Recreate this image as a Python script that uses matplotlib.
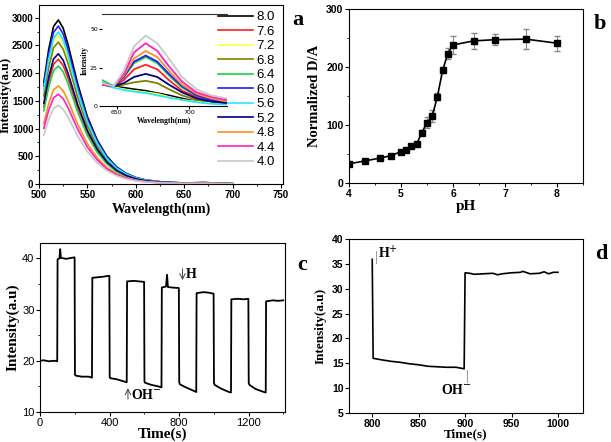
import numpy as np
import matplotlib
matplotlib.use('Agg')
import matplotlib.pyplot as plt
from matplotlib.ticker import AutoMinorLocator

serif = 'Liberation Serif'
sans = 'Liberation Sans'

# ---- panel a : emission spectra at different pH ----
ph_labels = ['8.0', '7.6', '7.2', '6.8', '6.4', '6.0', '5.6', '5.2', '4.8', '4.4', '4.0']
spec_colors = ['black', '#ff2020', '#ffff40', '#808000', '#20d040', '#2020ff',
               '#20e8ff', '#000080', '#ff9020', '#ff20c0', '#c8c8c8']
wl = [505, 510, 515, 520, 525, 530, 535, 540, 550, 560, 570, 580, 590, 600, 610, 625, 650, 670, 690, 700]
spectra = [
    [1835, 2427, 2842, 2960, 2812, 2516, 2161, 1806, 1214, 799, 503, 311, 192, 118, 74, 41, 18, 27, 12, 6],
    [1395, 1845, 2160, 2250, 2138, 1913, 1643, 1373, 923, 608, 383, 236, 146, 90, 56, 32, 14, 20, 9, 5],
    [1662, 2198, 2573, 2680, 2546, 2278, 1956, 1635, 1099, 724, 456, 281, 174, 107, 67, 38, 16, 24, 11, 5],
    [1587, 2099, 2458, 2560, 2432, 2176, 1869, 1562, 1050, 691, 435, 269, 166, 102, 64, 36, 15, 23, 10, 5],
    [1321, 1747, 2045, 2130, 2024, 1811, 1555, 1299, 873, 575, 362, 224, 138, 85, 53, 30, 13, 19, 9, 4],
    [1767, 2337, 2736, 2850, 2708, 2423, 2081, 1739, 1169, 770, 485, 299, 185, 114, 71, 40, 17, 26, 11, 6],
    [1699, 2247, 2630, 2740, 2603, 2329, 2000, 1671, 1123, 740, 466, 288, 178, 110, 69, 38, 16, 25, 11, 5],
    [1457, 1927, 2256, 2350, 2233, 1998, 1716, 1434, 964, 635, 400, 247, 153, 94, 59, 33, 14, 21, 9, 5],
    [1097, 1451, 1699, 1770, 1682, 1505, 1292, 1080, 726, 478, 301, 186, 115, 71, 44, 25, 11, 16, 7, 4],
    [1004, 1328, 1555, 1620, 1539, 1377, 1183, 988, 664, 437, 275, 170, 105, 65, 41, 23, 10, 15, 6, 3],
    [880, 1164, 1363, 1420, 1349, 1207, 1037, 866, 582, 383, 241, 149, 92, 57, 36, 20, 9, 13, 6, 3],
]
# inset (acceptor band)
wl_in = [640, 648, 655, 662, 670, 678, 686, 695, 705, 715, 726]
inset_spectra = [
    [14, 13, 12, 11, 10, 8.5, 7, 5, 3, 2, 1.5],
    [14, 13, 17, 24, 27, 24, 17, 10, 6, 4, 3],
    [14, 12.5, 11, 10, 9, 8, 6, 4, 3, 2, 1.5],
    [14, 13, 14, 15.5, 16.5, 15, 11, 7, 4, 3, 2],
    [17, 13, 19, 28, 32, 28, 20, 12, 7, 4, 3],
    [15, 13, 19, 29, 33, 29, 21, 13, 7, 4, 3],
    [14, 12, 10.5, 9.5, 8.5, 7, 5.5, 4, 2.5, 1.5, 1],
    [14, 13, 15, 19, 21, 19, 14, 9, 5, 3, 2],
    [14, 13, 20, 31, 36, 32, 23, 14, 8, 5, 3],
    [14, 13, 21, 35, 41, 36, 26, 16, 9, 6, 4],
    [15, 13, 23, 39, 46, 41, 31, 19, 11, 7, 5],
]

# ---- panel b : D/A ratio vs pH ----
ph = [4.0, 4.3, 4.6, 4.8, 5.0, 5.1, 5.2, 5.3, 5.4, 5.5, 5.6, 5.7, 5.8, 5.9, 6.0, 6.4, 6.8, 7.4, 8.0]
ratio = [33, 38, 43, 47, 54, 57, 64, 67, 87, 104, 115, 149, 194, 223, 238, 245, 247, 248, 241]
ratio_err = [2, 2, 2, 2, 3, 3, 4, 4, 5, 10, 10, 6, 5, 10, 15, 14, 9, 17, 13]

# ---- panel c : reversibility cycles ----
t_c = [0, 20, 50, 80, 99, 101, 112, 116, 120, 150, 199,
       201, 205, 240, 280, 299, 301, 330, 360, 399,
       401, 405, 440, 480, 499, 501, 540, 570, 599,
       601, 605, 640, 680, 699, 701, 725, 731, 736, 760, 799,
       801, 805, 840, 880, 899, 901, 940, 970, 999,
       1001, 1005, 1040, 1080, 1099, 1101, 1140, 1170, 1199,
       1201, 1205, 1240, 1280, 1299, 1301, 1340, 1370, 1400]
i_c = [20.0, 20.1, 19.9, 20.0, 19.9, 39.8, 40.0, 41.8, 40.1, 39.9, 40.2,
       17.3, 17.1, 16.9, 16.9, 16.7, 36.2, 36.3, 36.4, 36.6,
       16.8, 16.6, 16.4, 16.0, 15.8, 35.5, 35.6, 35.5, 35.4,
       15.9, 15.7, 15.3, 15.0, 14.8, 34.3, 34.5, 36.8, 34.4, 34.3, 34.2,
       15.8, 15.4, 14.8, 14.2, 13.9, 33.2, 33.4, 33.3, 33.1,
       15.7, 15.3, 14.6, 14.0, 13.8, 32.0, 32.1, 32.0, 32.1,
       15.7, 15.3, 14.5, 14.0, 13.8, 31.6, 31.8, 31.7, 31.8]

# ---- panel d : single cycle ----
t_d = [800, 801, 810, 820, 830, 840, 850, 860, 870, 880, 890, 899,
       900, 905, 910, 920, 930, 935, 940, 950, 960, 962, 970, 980, 985, 990, 995, 1000]
i_d = [35.9, 16.0, 15.7, 15.4, 15.2, 14.9, 14.7, 14.4, 14.3, 14.2, 14.2, 13.9,
       33.2, 33.1, 32.9, 33.0, 33.1, 32.8, 33.0, 33.2, 33.3, 33.5, 33.0, 33.1, 33.4, 33.0, 33.3, 33.3]


def style_ticks(ax, size=7, family=sans, weight='bold'):
    ax.tick_params(which='both', direction='out')
    ax.tick_params(which='major', length=3, labelsize=size, pad=1)
    ax.tick_params(which='minor', length=1.5)
    for lab in ax.get_xticklabels() + ax.get_yticklabels():
        lab.set_fontfamily(family)
        lab.set_fontweight(weight)


fig = plt.figure(figsize=(6.11, 4.42), dpi=100)

# panel a
ax1 = fig.add_axes([0.0638, 0.5837, 0.3993, 0.405])
for i in range(len(ph_labels)):
    ax1.plot(wl, spectra[i], color=spec_colors[i], lw=1.2, label=ph_labels[i])
ax1.set_xlim(500, 752)
ax1.set_ylim(0, 3230)
ax1.set_xticks([500, 550, 600, 650, 700, 750])
ax1.set_yticks([0, 500, 1000, 1500, 2000, 2500, 3000])
ax1.xaxis.set_minor_locator(AutoMinorLocator(2))
ax1.yaxis.set_minor_locator(AutoMinorLocator(2))
style_ticks(ax1, 7)
ax1.set_xlabel('Wavelength(nm)', family=serif, weight='bold', fontsize=10, labelpad=2)
ax1.set_ylabel('Intensity(a.u)', family=serif, weight='bold', fontsize=9.5, labelpad=0)
leg = ax1.legend(loc='upper right', bbox_to_anchor=(1.0, 1.01), frameon=False,
                 prop={'family': sans, 'size': 9.5}, labelspacing=0.17,
                 handlelength=2.6, handletextpad=0.3, borderaxespad=0.2)
ax1.text(1.06, 0.97, 'a', transform=ax1.transAxes, family=serif, weight='bold',
         fontsize=16, va='top', ha='center')

ins = fig.add_axes([0.167, 0.760, 0.2046, 0.208])
for i in range(len(ph_labels)):
    ins.plot(wl_in, inset_spectra[i], color=spec_colors[i], lw=1.3)
ins.set_xlim(640, 726)
ins.set_ylim(0, 60)
ins.set_xticks([650, 700])
ins.set_yticks([0, 25, 50])
ins.spines['left'].set_visible(False)
ins.spines['right'].set_visible(False)
ins.spines['top'].set_color('#333333')
ins.patch.set_alpha(0)
ins.tick_params(length=2, labelsize=4.5, pad=1)
ins.set_xlabel('Wavelength(nm)', family=serif, weight='bold', fontsize=5.5, labelpad=1)
ins.set_ylabel('Intensity', family=serif, weight='bold', fontsize=5.5, labelpad=1)

# panel b
ax2 = fig.add_axes([0.5712, 0.586, 0.383, 0.3937])
ax2.errorbar(ph, ratio, yerr=ratio_err, fmt='-s', color='black', ms=4.5, lw=1.2,
             ecolor='#888888', elinewidth=0.8, capsize=2)
ax2.set_xlim(4, 8.5)
ax2.set_ylim(0, 300)
ax2.set_xticks([4, 5, 6, 7, 8])
ax2.set_yticks([0, 100, 200, 300])
ax2.xaxis.set_minor_locator(AutoMinorLocator(2))
ax2.yaxis.set_minor_locator(AutoMinorLocator(2))
style_ticks(ax2, 7.5)
ax2.set_xlabel('pH', family=serif, weight='bold', fontsize=11, labelpad=1)
ax2.set_ylabel('Normalized D/A', family=serif, weight='bold', fontsize=10.5, labelpad=4)
ax2.text(1.07, 0.97, 'b', transform=ax2.transAxes, family=serif, weight='bold',
         fontsize=16, va='top', ha='center')

# panel c
ax3 = fig.add_axes([0.0655, 0.0679, 0.401, 0.3824])
ax3.plot(t_c, i_c, color='black', lw=1.3)
ax3.set_xlim(0, 1410)
ax3.set_ylim(10, 43)
ax3.set_xticks([0, 400, 800, 1200])
ax3.set_yticks([10, 20, 30, 40])
ax3.xaxis.set_minor_locator(AutoMinorLocator(2))
ax3.yaxis.set_minor_locator(AutoMinorLocator(2))
style_ticks(ax3, 8, weight='normal')
ax3.set_xlabel('Time(s)', family=serif, weight='bold', fontsize=11, labelpad=0)
ax3.set_ylabel('Intensity(a.u)', family=serif, weight='bold', fontsize=11, labelpad=2)
ax3.annotate('', xy=(820, 35.2), xytext=(820, 38.5),
             arrowprops=dict(arrowstyle='->', color='#444444', lw=0.7))
ax3.text(840, 36.8, 'H', family=serif, weight='bold', fontsize=10, va='center')
ax3.annotate('', xy=(506, 15.2), xytext=(506, 12),
             arrowprops=dict(arrowstyle='->', color='#444444', lw=0.7))
ax3.text(525, 13.3, 'OH$^{-}$', family=serif, weight='bold', fontsize=10, va='center')
ax3.text(1.07, 0.93, 'c', transform=ax3.transAxes, family=serif, weight='bold',
         fontsize=16, va='top', ha='center')

# panel d
ax4 = fig.add_axes([0.5712, 0.0656, 0.383, 0.3937])
ax4.plot(t_d, i_d, color='black', lw=1.2)
ax4.set_xlim(775, 1027)
ax4.set_ylim(5, 40)
ax4.set_xticks([800, 850, 900, 950, 1000])
ax4.set_yticks([5, 10, 15, 20, 25, 30, 35, 40])
style_ticks(ax4, 7.5)
ax4.set_xlabel('Time(s)', family=serif, weight='bold', fontsize=9.5, labelpad=0)
ax4.set_ylabel('Intensity(a.u)', family=serif, weight='bold', fontsize=9.5, labelpad=4)
ax4.plot([804, 804], [35.2, 37.6], color='#999999', lw=0.7)
ax4.text(806, 37.2, 'H$^{+}$', family=serif, weight='bold', fontsize=10, va='center')
ax4.plot([902, 902], [11.3, 13.6], color='#999999', lw=0.7)
ax4.text(891, 9.6, 'OH$^{-}$', family=serif, weight='bold', fontsize=10, va='center', ha='center')
ax4.text(1.08, 0.97, 'd', transform=ax4.transAxes, family=serif, weight='bold',
         fontsize=16, va='top', ha='center')

fig.savefig('out.png', dpi=100)
